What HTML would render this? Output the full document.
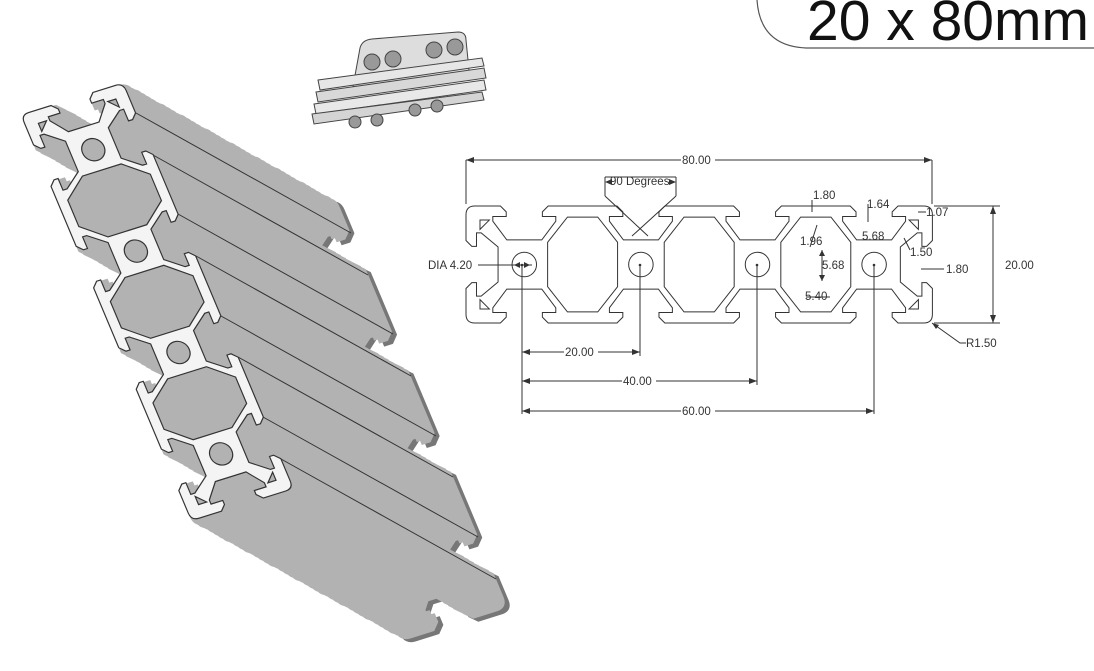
<!DOCTYPE html>
<html><head><meta charset="utf-8"><style>
html,body{margin:0;padding:0;background:#fff;}
svg{display:block;}
text{font-family:"Liberation Sans",Arial,sans-serif;}
</style></head><body>
<svg width="1094" height="671" viewBox="0 0 1094 671" xmlns="http://www.w3.org/2000/svg">
<defs>
<path id="P" fill-rule="evenodd" d="M1.5,0 L5.9,0 L6.9,1 L6.9,1.8 L4.6,1.8 L4.6,2.6 L7,5.8 L13,5.8 L15.4,2.6 L15.4,1.8 L13.1,1.8 L13.1,1 L14.1,0
L25.9,0 L26.9,1 L26.9,1.8 L24.6,1.8 L24.6,2.6 L27,5.8 L33,5.8 L35.4,2.6 L35.4,1.8 L33.1,1.8 L33.1,1 L34.1,0
L45.9,0 L46.9,1 L46.9,1.8 L44.6,1.8 L44.6,2.6 L47,5.8 L53,5.8 L55.4,2.6 L55.4,1.8 L53.1,1.8 L53.1,1 L54.1,0
L65.9,0 L66.9,1 L66.9,1.8 L64.6,1.8 L64.6,2.6 L67,5.8 L73,5.8 L75.4,2.6 L75.4,1.8 L73.1,1.8 L73.1,1 L74.1,0
L78.5,0 Q80,0 80,1.5 L80,5.9 L79,6.9 L78.2,6.9 L78.2,4.6 L77.4,4.6 L74.5,7 L74.5,13 L77.4,15.4 L78.2,15.4 L78.2,13.1 L79,13.1 L80,14.1 L80,18.5 Q80,20 78.5,20
L74.1,20 L73.1,19 L73.1,18.2 L75.4,18.2 L75.4,17.4 L73,14.2 L67,14.2 L64.6,17.4 L64.6,18.2 L66.9,18.2 L66.9,19 L65.9,20
L54.1,20 L53.1,19 L53.1,18.2 L55.4,18.2 L55.4,17.4 L53,14.2 L47,14.2 L44.6,17.4 L44.6,18.2 L46.9,18.2 L46.9,19 L45.9,20
L34.1,20 L33.1,19 L33.1,18.2 L35.4,18.2 L35.4,17.4 L33,14.2 L27,14.2 L24.6,17.4 L24.6,18.2 L26.9,18.2 L26.9,19 L25.9,20
L14.1,20 L13.1,19 L13.1,18.2 L15.4,18.2 L15.4,17.4 L13,14.2 L7,14.2 L4.6,17.4 L4.6,18.2 L6.9,18.2 L6.9,19 L5.9,20
L1.5,20 Q0,20 0,18.5 L0,14.1 L1,13.1 L1.8,13.1 L1.8,15.4 L2.6,15.4 L5.5,13 L5.5,7 L2.6,4.6 L1.8,4.6 L1.8,6.9 L1,6.9 L0,5.9 L0,1.5 Q0,0 1.5,0 Z
M17.4,1.9 L22.6,1.9 L26,6.2 L26,13.8 L22.6,18.1 L17.4,18.1 L14,13.8 L14,6.2 Z
M37.4,1.9 L42.6,1.9 L46,6.2 L46,13.8 L42.6,18.1 L37.4,18.1 L34,13.8 L34,6.2 Z
M57.4,1.9 L62.6,1.9 L66,6.2 L66,13.8 L62.6,18.1 L57.4,18.1 L54,13.8 L54,6.2 Z
M7.9,10 a2.1,2.1 0 1,0 4.2,0 a2.1,2.1 0 1,0 -4.2,0 Z
M27.9,10 a2.1,2.1 0 1,0 4.2,0 a2.1,2.1 0 1,0 -4.2,0 Z
M47.9,10 a2.1,2.1 0 1,0 4.2,0 a2.1,2.1 0 1,0 -4.2,0 Z
M67.9,10 a2.1,2.1 0 1,0 4.2,0 a2.1,2.1 0 1,0 -4.2,0 Z
M2.4,2.4 L4,2.4 L2.4,4 Z M77.6,2.4 L76,2.4 L77.6,4 Z M2.4,17.6 L4,17.6 L2.4,16 Z M77.6,17.6 L76,17.6 L77.6,16 Z"/>
<g id="E"><use href="#P" transform="matrix(2.13 5.07 -5.1 1.6 123 83)"/></g>
</defs>

<!-- title -->
<path d="M757,0 Q760,46 806,48 L1094,48" fill="none" stroke="#555" stroke-width="1.2"/>
<text x="807" y="40" font-size="57" fill="#111">20 x 80mm</text>

<!-- 3D extrusion -->
<g fill="#b2b2b2" stroke="#b2b2b2" stroke-width="1.3">
<use href="#E" x="215" y="120" fill="#8a8a8a" stroke="#777"/>
<use href="#E" x="210" y="117"/><use href="#E" x="205" y="114"/><use href="#E" x="200" y="112"/><use href="#E" x="195" y="109"/><use href="#E" x="190" y="106"/><use href="#E" x="185" y="103"/><use href="#E" x="180" y="100"/><use href="#E" x="175" y="98"/><use href="#E" x="170" y="95"/><use href="#E" x="165" y="92"/><use href="#E" x="160" y="89"/><use href="#E" x="155" y="86"/><use href="#E" x="150" y="84"/><use href="#E" x="145" y="81"/><use href="#E" x="140" y="78"/><use href="#E" x="135" y="75"/><use href="#E" x="130" y="73"/><use href="#E" x="125" y="70"/><use href="#E" x="120" y="67"/><use href="#E" x="115" y="64"/><use href="#E" x="110" y="61"/><use href="#E" x="105" y="59"/><use href="#E" x="100" y="56"/><use href="#E" x="95" y="53"/><use href="#E" x="90" y="50"/><use href="#E" x="85" y="47"/><use href="#E" x="80" y="45"/><use href="#E" x="75" y="42"/><use href="#E" x="70" y="39"/><use href="#E" x="65" y="36"/><use href="#E" x="60" y="33"/><use href="#E" x="55" y="31"/><use href="#E" x="50" y="28"/><use href="#E" x="45" y="25"/><use href="#E" x="40" y="22"/><use href="#E" x="35" y="20"/><use href="#E" x="30" y="17"/><use href="#E" x="25" y="14"/><use href="#E" x="20" y="11"/><use href="#E" x="15" y="8"/><use href="#E" x="10" y="6"/><use href="#E" x="5" y="3"/>
</g>
<g stroke="#333" stroke-width="1" fill="none">
<path d="M136,113 l215,120 M153,155 l215,120 M178,214 l215,120 M196,256 l215,120 M221,316 l215,120 M238,357 l215,120 M263,417 l215,120 M281,459 l215,120"/>
</g>
<use href="#E" x="0" y="0" fill="#f4f4f4" stroke="#333" stroke-width="0.22"/>

<!-- small assembly image -->
<g stroke="#444" stroke-width="1">
<path d="M352,92 L360,48 Q362,40 372,39 L458,32 Q466,32 466,40 L470,80 Z" fill="#ddd"/>
<path d="M318,80 L482,58 L484,66 L320,90 Z" fill="#e6e6e6"/>
<path d="M316,92 L484,68 L486,78 L318,102 Z" fill="#d8d8d8"/>
<path d="M314,104 L484,80 L486,90 L316,114 Z" fill="#e8e8e8"/>
<path d="M312,114 L482,92 L484,100 L314,124 Z" fill="#d4d4d4"/>
<g fill="#999">
<circle cx="372" cy="62" r="8"/><circle cx="393" cy="59" r="8"/><circle cx="434" cy="50" r="8"/><circle cx="455" cy="47" r="8"/>
<circle cx="355" cy="122" r="6"/><circle cx="377" cy="120" r="6"/><circle cx="415" cy="110" r="6"/><circle cx="437" cy="106" r="6"/>
</g>
</g>

<!-- 2D drawing -->
<use href="#P" transform="matrix(5.83 0 0 5.85 466 206)" fill="#fff" stroke="#333" stroke-width="0.17"/>
<g stroke="#333" stroke-width="1" fill="none">
<path d="M466,204 V160 M932,204 V160 M466,160 H932"/>
<path d="M605,196 V177 M676,196 V177 M605,177 H676 M605,196 L648,236 M676,196 L632,236"/>
<path d="M522,265 V414 M640,265 V356 M757,265 V385 M874,265 V414"/>
<path d="M522,352 H640 M522,381 H757 M522,411 H874"/>
<path d="M934,206 H1000 M934,323 H1000 M993,206 V323"/>
<path d="M932,323 L960,343 H966"/>
<path d="M478,265 H532"/>
<path d="M812,200 V212 M868,204 V222 M918,212 H926 M904,238 L910,250 M921,269 H944 M822,250 V281 M806,297 H830 M810,247 L817,225"/>
</g>
<g fill="#333">
<path d="M466,160 l8,-3 v6z M932,160 l-8,-3 v6z"/>
<path d="M605,182 l7,-3 v6z M676,182 l-7,-3 v6z"/>
<path d="M522,352 l8,-3 v6z M640,352 l-8,-3 v6z M522,381 l8,-3 v6z M757,381 l-8,-3 v6z M522,411 l8,-3 v6z M874,411 l-8,-3 v6z"/>
<path d="M993,206 l-3,8 h6z M993,323 l-3,-8 h6z"/>
<path d="M932,323 l7,2 l-3,4z"/>
<path d="M514,265 l6,-3 v6z M530,265 l-6,-3 v6z"/>
<circle cx="522" cy="265" r="1.3"/><circle cx="640" cy="265" r="1.3"/><circle cx="757" cy="265" r="1.3"/><circle cx="874" cy="265" r="1.3"/>
<path d="M822,250 l-3,6 h6z M822,281 l-3,-6 h6z"/>
</g>
<g font-size="11.5" fill="#333">
<rect x="681" y="153" width="34" height="14" fill="#fff"/>
<text x="682" y="164">80.00</text>
<text x="610" y="185">90 Degrees</text>
<rect x="564" y="345" width="34" height="14" fill="#fff"/>
<text x="565" y="356">20.00</text>
<rect x="622" y="374" width="34" height="14" fill="#fff"/>
<text x="623" y="385">40.00</text>
<rect x="681" y="404" width="34" height="14" fill="#fff"/>
<text x="682" y="415">60.00</text>
<text x="1005" y="269">20.00</text>
<text x="966" y="347">R1.50</text>
<text x="428" y="269">DIA 4.20</text>
<text x="813" y="199">1.80</text>
<text x="867" y="208">1.64</text>
<text x="926" y="216">1.07</text>
<text x="862" y="240">5.68</text>
<text x="800" y="245">1.96</text>
<text x="910" y="256">1.50</text>
<text x="822" y="269">5.68</text>
<text x="946" y="273">1.80</text>
<text x="805" y="300">5.40</text>
</g>
</svg>
</body></html>
